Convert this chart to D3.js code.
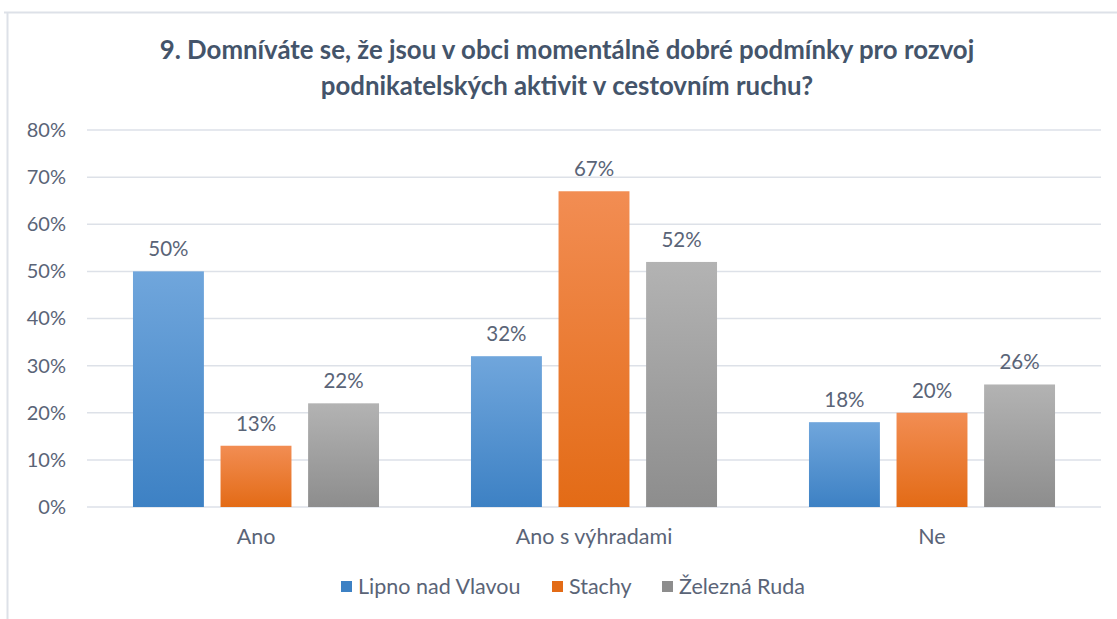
<!DOCTYPE html>
<html><head><meta charset="utf-8">
<script src="https://cdn.jsdelivr.net/npm/d3@7"></script>
<style>
html,body{margin:0;padding:0;background:#fff;}
svg{display:block;}
text{font-family:Lato,"Open Sans",sans-serif;}
</style></head>
<body>
<svg id="chart" width="1117" height="619"></svg>
<script>
const titleLines = ["9. Domníváte se, že jsou v obci momentálně dobré podmínky pro rozvoj",
                    "podnikatelských aktivit v cestovním ruchu?"];
const categories = ["Ano", "Ano s výhradami", "Ne"];
const seriesNames = ["Lipno nad Vlavou", "Stachy", "Železná Ruda"];
const lipno = [0.50, 0.32, 0.18];
const stachy = [0.13, 0.67, 0.20];
const zelezna = [0.22, 0.52, 0.26];
const yTicks = [0, 0.1, 0.2, 0.3, 0.4, 0.5, 0.6, 0.7, 0.8];
const colorsTop = ["#70a6dc", "#f28d53", "#b3b3b3"];
const colorsBottom = ["#3d81c4", "#e36b16", "#8d8d8d"];

const seriesValues = [lipno, stachy, zelezna];
const svg = d3.select("#chart");
const W = 1117, H = 619;
const textColor = "#5a6477";
const titleColor = "#44546a";

// frame
svg.append("rect").attr("x",0).attr("y",0).attr("width",W).attr("height",H).attr("fill","#fff");
svg.append("line").attr("x1",4).attr("x2",W).attr("y1",12.5).attr("y2",12.5).attr("stroke","#dde1e8").attr("stroke-width",2);
svg.append("line").attr("x1",7.5).attr("x2",7.5).attr("y1",12).attr("y2",H).attr("stroke","#dde1e8").attr("stroke-width",2);

// gradients
const defs = svg.append("defs");
seriesNames.forEach((s,i)=>{
  const g = defs.append("linearGradient").attr("id","g"+i).attr("x1",0).attr("x2",0).attr("y1",0).attr("y2",1);
  g.append("stop").attr("offset","0%").attr("stop-color",colorsTop[i]);
  g.append("stop").attr("offset","100%").attr("stop-color",colorsBottom[i]);
});

const plotLeft = 87, plotRight = 1101, plotTop = 130, plotBottom = 507;
const y = d3.scaleLinear().domain([0, 0.8]).range([plotBottom, plotTop]);
const x0 = d3.scaleBand().domain(categories).range([plotLeft, plotRight]).padding(0);
const x1 = d3.scaleBand().domain(seriesNames).range([0, x0.bandwidth()]).paddingInner(0.19).paddingOuter(0.525);

// title
const title = svg.append("text").attr("text-anchor","middle").attr("fill",titleColor).attr("font-weight","bold");
titleLines.forEach((t,i)=>{
  title.append("tspan").attr("x",567).attr("y", i===0 ? 59 : 95).text(t);
});
title.attr("font-size", 20);
const firstLen = title.select("tspan").node().getComputedTextLength();
title.attr("font-size", 20 * 815 / firstLen);

// gridlines
svg.append("g").selectAll("line").data(yTicks).join("line")
  .attr("x1",plotLeft).attr("x2",plotRight)
  .attr("y1",d=>y(d)).attr("y2",d=>y(d))
  .attr("stroke","#dde1e8").attr("stroke-width",1.5);

// y axis
const yAxis = svg.append("g").attr("transform",`translate(${plotLeft},0)`)
  .call(d3.axisLeft(y).tickValues(yTicks).tickFormat(d3.format(".0%")).tickSize(0).tickPadding(21));
yAxis.select(".domain").remove();
yAxis.selectAll("text").attr("font-size",20).attr("fill",textColor).attr("font-family","Lato");

// x axis
const xAxis = svg.append("g").attr("transform",`translate(0,${plotBottom})`)
  .call(d3.axisBottom(x0).tickSize(0).tickPadding(22));
xAxis.select(".domain").remove();
xAxis.selectAll("text").attr("font-size",21.5).attr("fill",textColor).attr("font-family","Lato");

// bars
const groups = svg.append("g").selectAll("g").data(categories).join("g")
  .attr("transform",d=>`translate(${x0(d)},0)`);
groups.each(function(cat, ci){
  const g = d3.select(this);
  seriesNames.forEach((s, si)=>{
    const v = seriesValues[si][ci];
    g.append("rect").attr("x",x1(s)).attr("width",x1.bandwidth())
      .attr("y",y(v)).attr("height",y(0)-y(v)).attr("fill",`url(#g${si})`);
    g.append("text").attr("x",x1(s)+x1.bandwidth()/2).attr("y",y(v)-15)
      .attr("text-anchor","middle").attr("font-size",20.5).attr("fill",textColor)
      .text(d3.format(".0%")(v));
  });
});

// legend
const legendX = [341, 552, 662];
const leg = svg.append("g");
seriesNames.forEach((s,i)=>{
  leg.append("rect").attr("x",legendX[i]).attr("y",581).attr("width",11).attr("height",11).attr("fill",colorsBottom[i]);
  leg.append("text").attr("x",legendX[i]+17).attr("y",594).attr("font-size",21.5).attr("fill",textColor).text(s);
});
</script>
</body></html>
